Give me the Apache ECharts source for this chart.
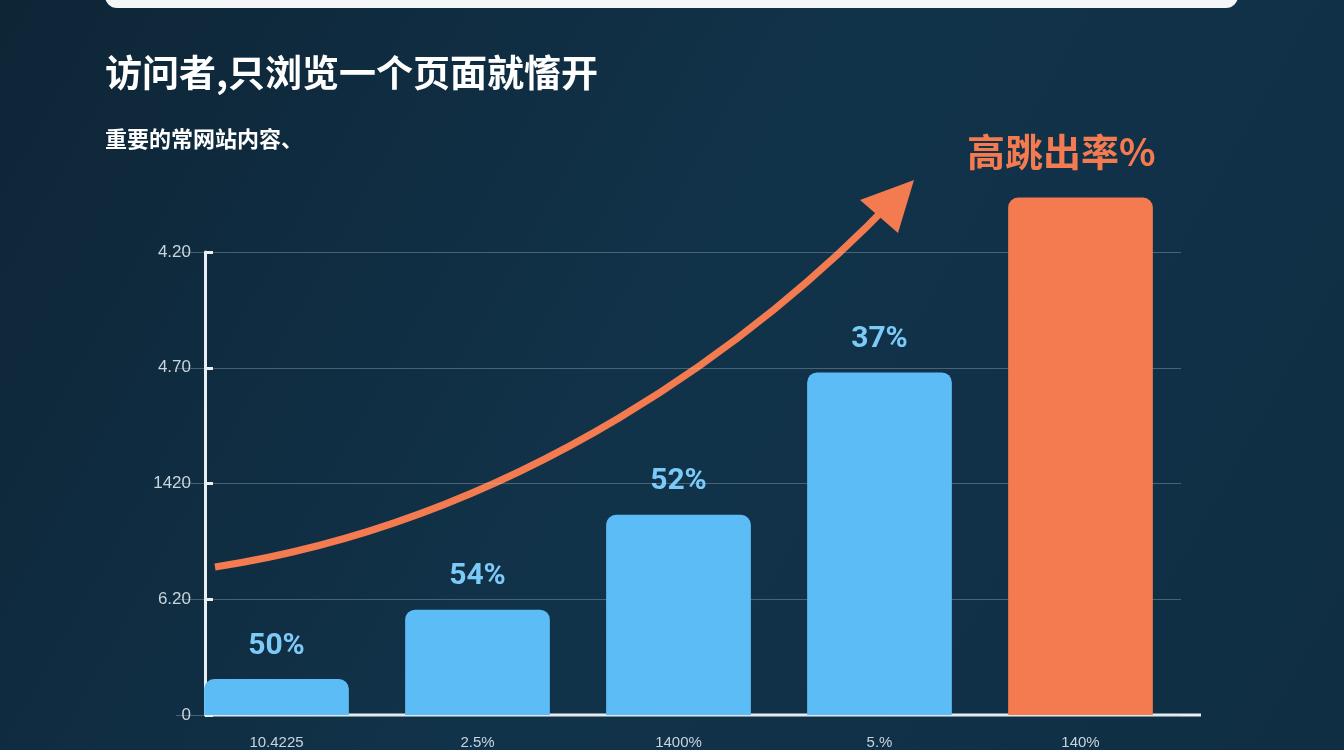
<!DOCTYPE html>
<html>
<head>
<meta charset="utf-8">
<title>高跳出率</title>
<script src="https://cdn.jsdelivr.net/npm/echarts@6/dist/echarts.min.js"></script>
<style>
  html,body{margin:0;padding:0;background:#0f2b3f;}
  #chart{width:1344px;height:750px;}
</style>
</head>
<body>
<div id="chart"></div>
<script>
// 数据
var categories = ['10.4225', '2.5%', '1400%', '5.%', '140%'];
var values = [0.31, 0.91, 1.73, 2.96, 4.47];
var barLabels = ['50%', '54%', '52%', '37%', ''];
var yTickLabels = ['0', '6.20', '1420', '4.70', '4.20'];

var blue = '#5cbcf6', orange = '#f47a4f';

var chart = echarts.init(document.getElementById('chart'));
var option = {
    backgroundColor: {
        type: 'linear', x: 0, y: 0, x2: 1, y2: 1,
        colorStops: [{offset: 0, color: '#0e2536'}, {offset: 0.5, color: '#11334a'}, {offset: 1, color: '#0f2e44'}]
    },
    grid: {left: 176, right: 163, top: 252, bottom: 28},
    xAxis: {
        type: 'category',
        data: categories,
        axisLine: {show: false},
        axisTick: {show: false},
        axisLabel: {color: '#c9d4dc', fontSize: 15, margin: 20}
    },
    yAxis: {
        type: 'value',
        min: 0, max: 4, interval: 1,
        offset: -29,
        axisLine: {show: true, lineStyle: {color: '#e8eef2', width: 3}},
        axisTick: {show: true, length: 8, inside: true, lineStyle: {color: '#e8eef2', width: 3}},
        axisLabel: {
            color: '#c9d4dc', fontSize: 17, margin: 14,
            formatter: function (v) { return yTickLabels[Math.round(v)]; }
        },
        splitLine: {lineStyle: {color: 'rgba(200,215,225,0.3)', width: 1}}
    },
    series: [{
        type: 'bar',
        barWidth: '72%',
        clip: false,
        data: values.map(function (v, i) {
            return {value: v, itemStyle: {color: i === 4 ? orange : blue, borderRadius: [10, 10, 0, 0]}};
        }),
        label: {
            show: true, position: 'top', distance: 18,
            color: '#7ccaf8', fontSize: 30, fontWeight: 'bold',
            fontFamily: 'Roboto, sans-serif',
            formatter: function (p) { return barLabels[p.dataIndex]; }
        }
    }],
    graphic: [
        {type: 'rect', shape: {x: 105, y: -20, width: 1133, height: 28, r: 12}, style: {fill: '#f4f6f8'}},
        {type: 'text', left: 105, top: 54, style: {text: '访问者,只浏览一个页面就慉开', fill: '#ffffff', font: 'bold 37px "Noto Sans CJK SC"'}},
        {type: 'text', left: 105, top: 128, style: {text: '重要的常网站内容、', fill: '#ffffff', font: 'bold 22px "Noto Sans CJK SC"'}},
        {type: 'text', left: 967, top: 133, style: {text: '高跳出率%', fill: orange, font: 'bold 38px "Noto Sans CJK SC"'}},
        {type: 'bezierCurve', shape: {x1: 215, y1: 567, cpx1: 520, cpy1: 520, cpx2: 760, cpy2: 340, x2: 895, y2: 198},
            style: {stroke: orange, lineWidth: 7, fill: null}},
        {type: 'polygon', shape: {points: [[914, 180], [860, 200], [898, 233]]}, style: {fill: orange}}
    ]
};
chart.setOption(option);

// x 轴基线：从 y 轴位置画到网格右侧
var base = chart.convertToPixel({gridIndex: 0}, [0, 0]);
var rect = chart.getModel().getComponent('grid').coordinateSystem.getRect();
chart.setOption({
    graphic: option.graphic.concat([{
        type: 'line',
        shape: {x1: rect.x + 29, y1: base[1], x2: rect.x + rect.width + 20, y2: base[1]},
        style: {stroke: '#e8eef2', lineWidth: 3}
    }])
});
</script>
</body>
</html>
